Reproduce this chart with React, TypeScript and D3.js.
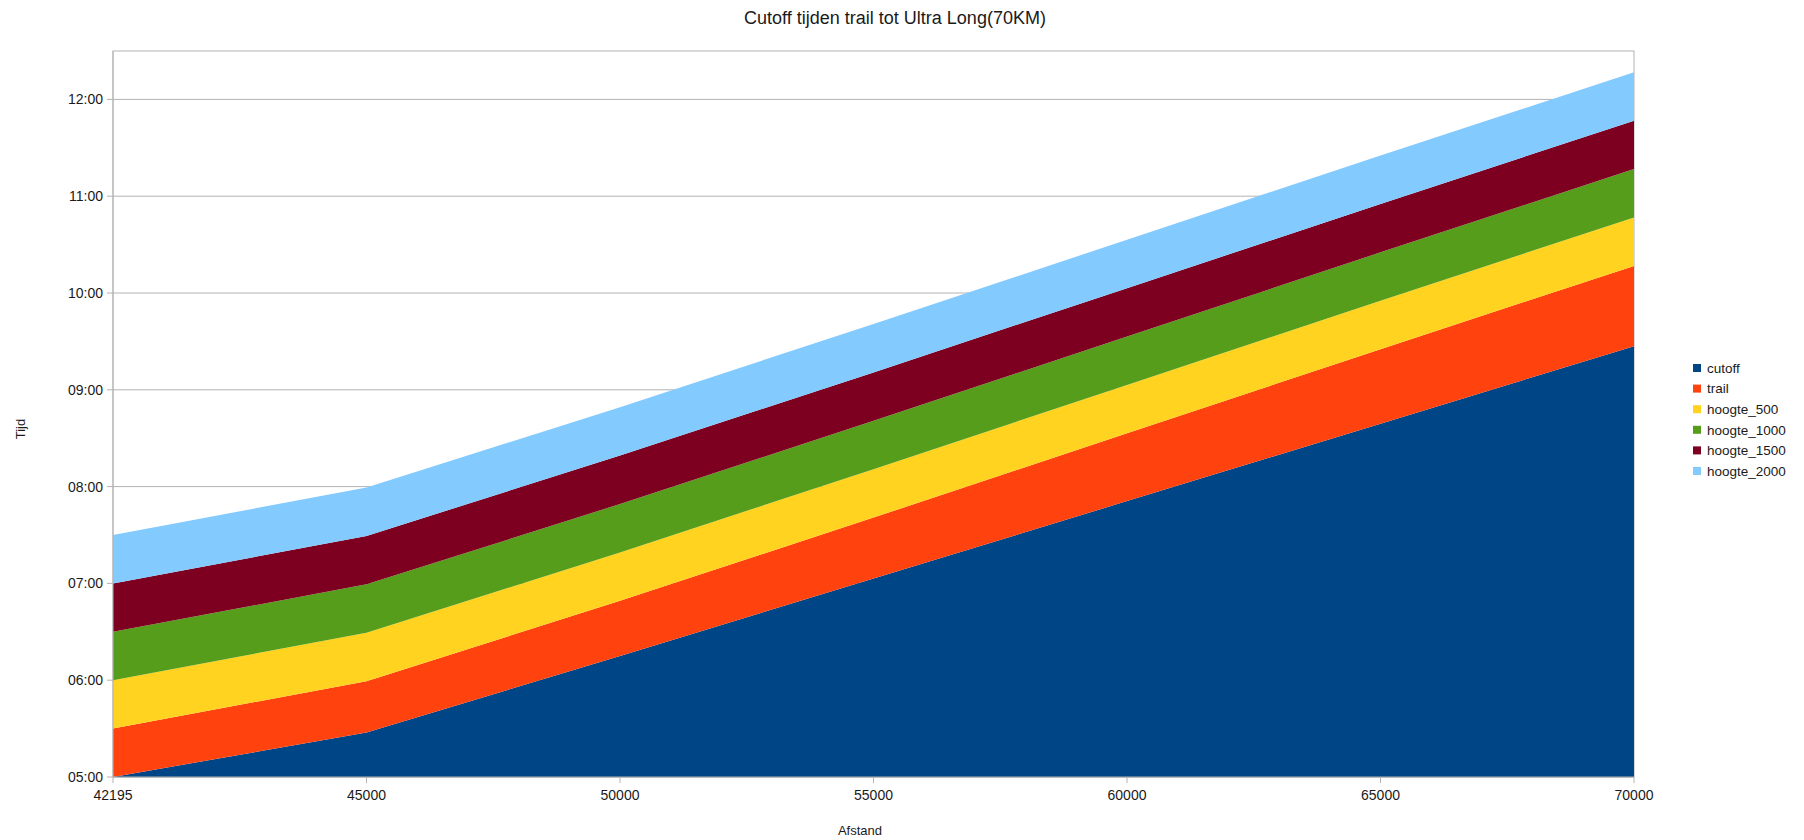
import { scalePoint, scaleLinear, stack, area, range } from "d3";

// afstand in meters (category axis, equal spacing)
const afstand = ["42195", "45000", "50000", "55000", "60000", "65000", "70000"];

// all values in hours, stacked on top of each other
const cutoff = [5.0, 5.46, 6.25, 7.05, 7.85, 8.65, 9.45];
const trail = [0.5, 0.53, 0.57, 0.63, 0.7, 0.77, 0.83];
const hoogte_500 = [0.5, 0.5, 0.5, 0.5, 0.5, 0.5, 0.5];
const hoogte_1000 = [0.5, 0.5, 0.5, 0.5, 0.5, 0.5, 0.5];
const hoogte_1500 = [0.5, 0.5, 0.5, 0.5, 0.5, 0.5, 0.5];
const hoogte_2000 = [0.5, 0.5, 0.5, 0.5, 0.5, 0.5, 0.5];

const seriesNames = ["cutoff", "trail", "hoogte_500", "hoogte_1000", "hoogte_1500", "hoogte_2000"];
const seriesValues = [cutoff, trail, hoogte_500, hoogte_1000, hoogte_1500, hoogte_2000];
const colors = ["#004586", "#ff420e", "#ffd320", "#579d1c", "#7e0021", "#83caff"];

const yTicks = [5, 6, 7, 8, 9, 10, 11, 12];

const width = 1804;
const height = 840;
const plot = { left: 113, right: 1634, top: 51, bottom: 777 };
const font = "'Liberation Sans', Arial, sans-serif";
const textColor = "#1a1a1a";
const gridColor = "#b3b3b3";

const fmtHour = (h: number) => `${String(h).padStart(2, "0")}:00`;

const App = () => {
  const xScale = scalePoint<string>().domain(afstand).range([plot.left, plot.right]);
  // clamp so the bottom layer starts at the axis (05:00), not at 0
  const yScale = scaleLinear().domain([5, 12.5]).range([plot.bottom, plot.top]).clamp(true);

  const rows = afstand.map((a, i) => {
    const row: Record<string, any> = { afstand: a };
    seriesNames.forEach((name, s) => (row[name] = seriesValues[s][i]));
    return row;
  });

  const layers = stack<Record<string, any>>().keys(seriesNames)(rows);

  const areaGen = area<any>()
    .x((d) => xScale(d.data.afstand) as number)
    .y0((d) => yScale(d[0]))
    .y1((d) => yScale(d[1]));

  return (
    <svg
      width={width}
      height={height}
      style={{ position: "absolute", left: 0, top: 0, background: "#fff" }}
      fontFamily={font}
    >
      <text x={895} y={24} textAnchor="middle" fontSize={18} fill={textColor}>
        Cutoff tijden trail tot Ultra Long(70KM)
      </text>

      {/* plot wall */}
      <rect
        x={plot.left}
        y={plot.top}
        width={plot.right - plot.left}
        height={plot.bottom - plot.top}
        fill="none"
        stroke={gridColor}
      />

      {yTicks.map((t) => (
        <g key={t}>
          <line x1={plot.left - 6} x2={plot.right} y1={yScale(t)} y2={yScale(t)} stroke={gridColor} />
          <text
            x={plot.left - 10}
            y={yScale(t)}
            dy="0.35em"
            textAnchor="end"
            fontSize={14}
            fill={textColor}
          >
            {fmtHour(t)}
          </text>
        </g>
      ))}

      {layers.map((layer, i) => (
        <path key={seriesNames[i]} d={areaGen(layer as any) || ""} fill={colors[i]} />
      ))}

      <line x1={plot.left} x2={plot.right} y1={plot.bottom} y2={plot.bottom} stroke={gridColor} />
      <line x1={plot.left} x2={plot.left} y1={plot.top} y2={plot.bottom} stroke={gridColor} />

      {afstand.map((a) => (
        <g key={a}>
          <line
            x1={xScale(a)}
            x2={xScale(a)}
            y1={plot.bottom}
            y2={plot.bottom + 6}
            stroke={gridColor}
          />
          <text
            x={xScale(a)}
            y={plot.bottom + 23}
            textAnchor="middle"
            fontSize={14}
            fill={textColor}
          >
            {a}
          </text>
        </g>
      ))}

      <text x={860} y={835} textAnchor="middle" fontSize={13} fill={textColor}>
        Afstand
      </text>
      <text
        transform={`translate(25,429) rotate(-90)`}
        textAnchor="middle"
        fontSize={13}
        fill={textColor}
      >
        Tijd
      </text>

      <g transform="translate(1693,368)">
        {seriesNames.map((name, i) => (
          <g key={name} transform={`translate(0,${range(6)[i] * 20.6})`}>
            <rect x={0} y={-4} width={8} height={8} fill={colors[i]} />
            <text x={14} y={0} dy="0.35em" fontSize={13.5} fill={textColor}>
              {name}
            </text>
          </g>
        ))}
      </g>
    </svg>
  );
};

export default App;
